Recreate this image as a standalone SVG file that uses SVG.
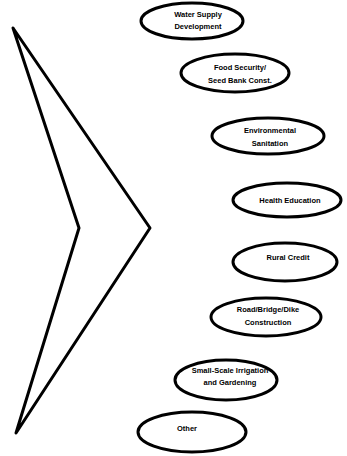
<svg xmlns="http://www.w3.org/2000/svg" width="347" height="456" viewBox="0 0 347 456">
<style>
.n ellipse{fill:#fff;stroke:#000;stroke-width:3}
.n text{font-family:"Liberation Sans",Arial,sans-serif;font-size:7.5px;font-weight:bold;fill:#000;text-anchor:middle}
.c{fill:none;stroke:#000;stroke-width:3;stroke-linejoin:round}
</style>
<rect width="347" height="456" fill="#fff"/>
<g id="connectors">
<polygon class="c" points="13,28 150,228 16,433 79,228"/>
</g>
<g id="n1" class="n"><ellipse cx="192" cy="21" rx="51" ry="18"/><text x="198" y="17">Water Supply</text><text x="198" y="29">Development</text></g>
<g id="n2" class="n"><ellipse cx="235" cy="73" rx="54" ry="19"/><text x="240" y="70">Food Security/</text><text x="240" y="83">Seed Bank Const.</text></g>
<g id="n3" class="n"><ellipse cx="268" cy="136" rx="56" ry="18"/><text x="270" y="133">Environmental</text><text x="270" y="146">Sanitation</text></g>
<g id="n4" class="n"><ellipse cx="287" cy="200" rx="54" ry="17"/><text x="290" y="203">Health Education</text></g>
<g id="n5" class="n"><ellipse cx="285" cy="262" rx="52" ry="19"/><text x="288" y="260">Rural Credit</text></g>
<g id="n6" class="n"><ellipse cx="266" cy="317" rx="55" ry="19"/><text x="268" y="312">Road/Bridge/Dike</text><text x="268" y="325">Construction</text></g>
<g id="n7" class="n"><ellipse cx="226" cy="380" rx="51" ry="20"/><text x="230" y="373">Small-Scale Irrigation</text><text x="230" y="385">and Gardening</text></g>
<g id="n8" class="n"><ellipse cx="192" cy="432" rx="54" ry="20"/><text x="187" y="431">Other</text></g>
</svg>
